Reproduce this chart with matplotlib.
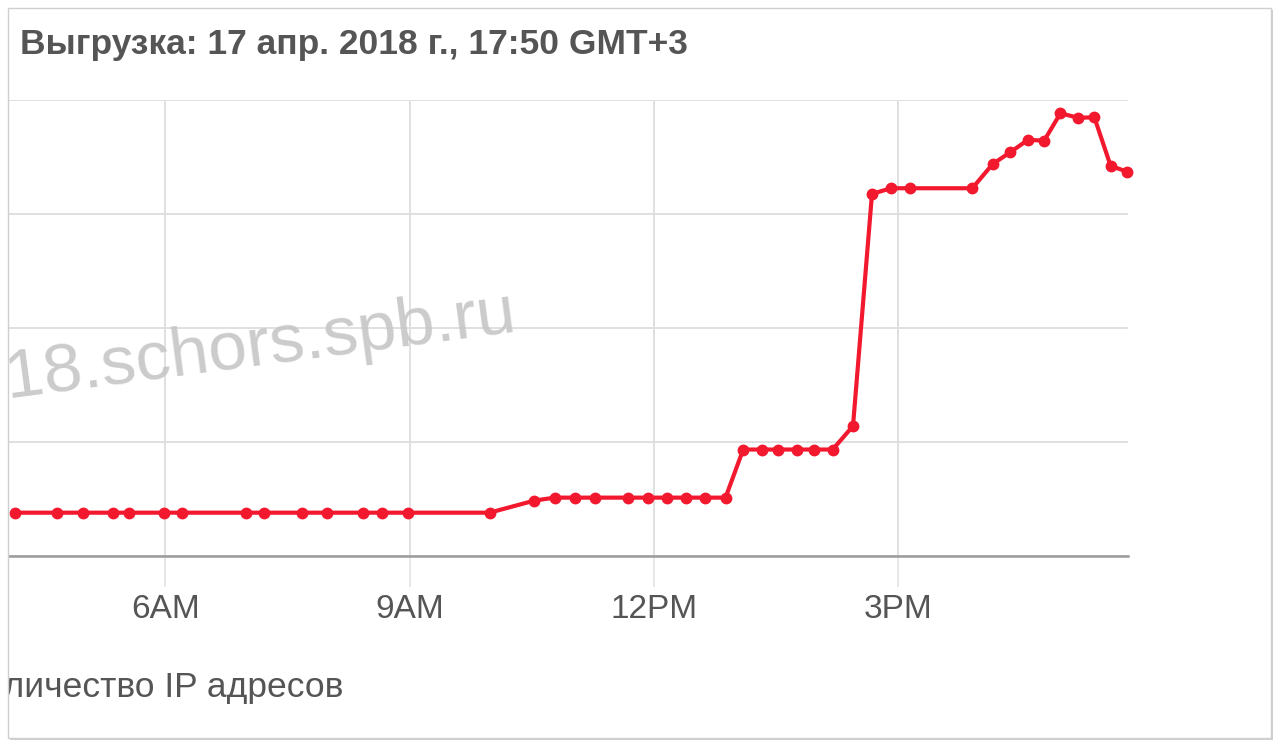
import matplotlib
matplotlib.use('Agg')
import matplotlib.pyplot as plt
from matplotlib.patches import Rectangle

# время выгрузки (часы:минуты) и количество IP адресов, млн
times = ['04:09', '04:40', '04:59', '05:21', '05:33', '05:59', '06:12', '06:59',
         '07:13', '07:41', '07:59', '08:26', '08:40', '08:59', '09:59', '10:32',
         '10:47', '11:02', '11:17', '11:41', '11:56', '12:10', '12:24', '12:38',
         '12:53', '13:06', '13:20', '13:32', '13:46', '13:58', '14:12', '14:27',
         '14:41', '14:55', '15:09', '15:55', '16:10', '16:23', '16:36', '16:48',
         '17:00', '17:13', '17:25', '17:37', '17:49']
ip_count = [1.90, 1.90, 1.90, 1.90, 1.90, 1.90, 1.90, 1.90,
            1.90, 1.90, 1.90, 1.90, 1.90, 1.90, 1.90, 2.43,
            2.56, 2.56, 2.56, 2.56, 2.56, 2.56, 2.56, 2.56,
            2.56, 4.67, 4.67, 4.67, 4.67, 4.67, 4.67, 5.70,
            15.88, 16.13, 16.13, 16.13, 17.19, 17.71, 18.25, 18.22,
            19.42, 19.22, 19.24, 17.11, 16.86]
tick_hours = [6, 9, 12, 15]
tick_labels = ['6AM', '9AM', '12PM', '3PM']
y_grid = [0, 5, 10, 15, 20]

title = 'Выгрузка: 17 апр. 2018 г., 17:50 GMT+3'
legend_label = 'Количество IP адресов'
watermark = '2018.schors.spb.ru'

hours = [int(t[:2]) + int(t[3:]) / 60 for t in times]

W, H = 1280, 747
fig = plt.figure(figsize=(W / 100, H / 100), dpi=100)
fig.patch.set_facecolor('white')

def fx(px):
    return px / W

def fy(py):
    return 1 - py / H

# карточка с тенью
fig.patches.append(Rectangle((fx(10), fy(740)), fx(1263), 730 / H, transform=fig.transFigure,
                             facecolor='#d0d0d0', edgecolor='none', zorder=-2))
fig.patches.append(Rectangle((fx(8), fy(738)), fx(1263), 730 / H, transform=fig.transFigure,
                             facecolor='white', edgecolor='none', zorder=-1))

ax = fig.add_axes([fx(8), fy(556), fx(1120), 456 / H])
ax.set_facecolor('none')
ax.plot(hours, ip_count, color='#f2192f', lw=3, marker='o', ms=7.5,
        clip_on=False, zorder=5)

ax.set_xlim(6 + (8 - 165.5) / 81.36, 6 + (1128 - 165.5) / 81.36)
ax.set_ylim(0, 20)
ax.set_xticks(tick_hours)
ax.set_xticklabels(tick_labels, fontsize=24, color='#555555', family='Liberation Sans')
ax.set_yticks(y_grid)
ax.set_yticklabels([])
ax.tick_params(axis='y', length=0)
ax.tick_params(axis='x', length=22, width=1.1, color='#e0e0e0', pad=5)
ax.grid(True, color='#e0e0e0', lw=1.4)
ax.set_axisbelow(True)
for s in ['left', 'right', 'top']:
    ax.spines[s].set_visible(False)
ax.spines['bottom'].set_color('#9a9a9a')
ax.spines['bottom'].set_linewidth(1.8)
ax.spines['bottom'].set_zorder(3)

fig.text(fx(20), fy(54), title, fontsize=25.5, fontweight='bold', color='#555555',
         family='Liberation Sans', va='baseline', ha='left')
fig.text(fx(-36), fy(697), legend_label, fontsize=25.5, color='#555555',
         family='Liberation Sans', va='baseline', ha='left')
fig.text(fx(-68), fy(408), watermark, fontsize=50, color='#c6c6c6', alpha=0.9,
         family='Liberation Sans', va='baseline', ha='left', rotation=7.5,
         rotation_mode='anchor', zorder=1)

# край скриншота слева
fig.patches.append(Rectangle((0, 0), fx(8), 1, transform=fig.transFigure,
                             facecolor='white', edgecolor='none', zorder=10))
fig.patches.append(Rectangle((fx(8), fy(738)), fx(1263), 730 / H, transform=fig.transFigure,
                             facecolor='none', edgecolor='#cfcfcf', lw=1, zorder=11))

fig.savefig('out.png', dpi=100)
